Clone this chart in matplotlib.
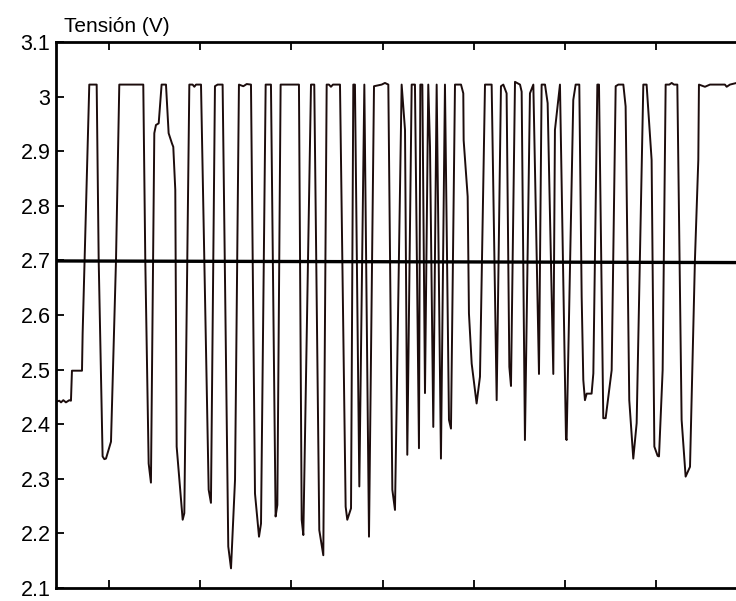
import matplotlib
matplotlib.use("Agg")
import matplotlib.pyplot as plt

plt.rcParams['font.family'] = ['Liberation Sans', 'DejaVu Sans']

# time axis (arbitrary units, ticks every 10) and measured voltage
t = [4.19, 4.55, 4.74, 4.99, 5.28, 5.65, 5.83, 5.94, 7.04, 7.11,
     7.84, 8.65, 8.87, 9.30, 9.49, 9.67, 10.22, 10.77, 11.13, 13.76,
     13.98, 14.35, 14.60, 14.97, 15.15, 15.45, 15.77, 16.25, 16.54, 16.91,
     17.05, 17.27, 17.42, 18.08, 18.26, 18.81, 19.17, 19.36, 19.54, 20.09,
     20.93, 21.18, 21.62, 21.91, 22.46,
     23.08, 23.38, 23.82, 24.25, 24.73, 25.10, 25.57, 26.01, 26.45, 26.67,
     27.18, 27.76, 28.27, 28.46, 28.82, 30.83, 31.13, 31.31, 32.15, 32.51,
     33.06, 33.50, 33.87, 34.12, 34.34, 34.56, 35.33, 35.95, 36.13, 36.54,
     36.79, 36.97, 37.45, 38.00, 38.51, 39.06, 39.90, 40.26, 40.63, 41.07,
     41.36,
     42.09, 42.46, 42.71, 43.19, 43.55, 43.99, 44.14, 44.36, 44.65, 45.01,
     45.20, 45.56, 45.93, 46.40, 46.84, 47.28, 47.50, 47.94, 48.60, 48.85,
     48.89, 49.33, 49.47, 49.77, 50.31, 50.68, 51.23, 51.96, 52.51, 52.98,
     53.24, 53.60, 53.90, 54.08, 54.52, 55.07, 55.25, 55.61, 56.16, 56.53,
     57.15, 57.44, 57.81, 58.10, 58.72, 58.90, 59.45, 60.11,
     60.18, 60.91, 61.17, 61.57, 61.83, 62.01, 62.19, 62.38, 62.92, 63.11,
     63.55, 63.73, 64.20, 64.46, 65.12, 65.56, 65.85, 66.40, 66.65, 67.05,
     67.49, 67.86, 68.59, 68.95, 69.50, 69.80, 70.16, 70.31, 70.71, 71.04,
     71.44, 71.70, 71.95, 72.32, 72.79, 73.23, 73.71, 74.25, 74.62, 74.69,
     75.35, 75.90, 77.54, 77.73, 78.09, 78.82, 79.60]
v = [2.441, 2.443, 2.440, 2.444, 2.440, 2.444, 2.443, 2.498, 2.498, 2.566,
     3.022, 3.022, 2.701, 2.341, 2.336, 2.337, 2.368, 2.701, 3.022, 3.022,
     2.701, 2.328, 2.293, 2.933, 2.948, 2.951, 3.022, 3.022, 2.933, 2.914,
     2.908, 2.829, 2.359, 2.225, 2.237, 3.022, 3.022, 3.018, 3.022, 3.022,
     2.280, 2.256, 3.019, 3.022, 3.022,
     2.176, 2.136, 2.298, 3.022, 3.019, 3.023, 3.022, 2.273, 2.194, 2.218,
     3.022, 3.022, 2.231, 2.252, 3.022, 3.022, 2.225, 2.197, 3.022, 3.022,
     2.206, 2.160, 3.022, 3.022, 3.018, 3.022, 3.022, 2.249, 2.225, 2.246,
     3.022, 3.022, 2.286, 3.022, 2.194, 3.019, 3.022, 3.025, 3.022, 2.280,
     2.243,
     3.022, 2.939, 2.344, 3.022, 3.022, 2.356, 3.022, 3.022, 2.457, 3.022,
     2.908, 2.395, 3.022, 2.337, 3.022, 2.408, 2.392, 3.022, 3.022, 3.006,
     2.920, 2.817, 2.603, 2.511, 2.438, 2.487, 3.022, 3.022, 2.444, 3.019,
     3.022, 3.006, 2.505, 2.470, 3.027, 3.022, 3.009, 2.371, 3.006, 3.022,
     2.492, 3.022, 3.022, 2.988, 2.492, 2.939, 3.022, 2.374,
     2.371, 2.994, 3.022, 3.022, 2.634, 2.481, 2.444, 2.456, 2.456, 2.493,
     3.022, 3.022, 2.411, 2.411, 2.499, 3.019, 3.022, 3.022, 2.982, 2.444,
     2.337, 2.402, 3.022, 3.022, 2.884, 2.359, 2.342, 2.341, 2.499, 3.022,
     3.022, 3.025, 3.022, 3.022, 2.408, 2.304, 2.322, 2.701, 2.884, 3.022,
     3.018, 3.022, 3.022, 3.018, 3.022, 3.025, 3.022]

# reference level (thick line)
ref_t = [4.19, 79.60]
ref_v = [2.699, 2.696]

yticks = [2.1, 2.2, 2.3, 2.4, 2.5, 2.6, 2.7, 2.8, 2.9, 3.0, 3.1]
ytick_labels = ['2.1', '2.2', '2.3', '2.4', '2.5', '2.6', '2.7', '2.8', '2.9', '3', '3.1']
xticks = [10, 20, 30, 40, 50, 60, 70]

fig = plt.figure(figsize=(7.36, 6.01), dpi=100)
ax = fig.add_axes([56 / 736, 13 / 601, 690 / 736, 546 / 601])

ax.plot(t, v, color='#1c0c0c', linewidth=1.4)
ax.plot(ref_t, ref_v, color='black', linewidth=2.4)

ax.set_xlim(4.19, 79.85)
ax.set_ylim(2.1, 3.1)
ax.set_yticks(yticks)
ax.set_yticklabels(ytick_labels)
ax.set_xticks(xticks)
ax.set_xticklabels([])
ax.tick_params(direction='in', top=True, right=True, length=6, width=1.3,
               labelsize=15.5, pad=4)
for side in ax.spines.values():
    side.set_linewidth(2)

fig.text(64 / 736, 1 - 32 / 601, 'Tensión (V)', fontsize=15,
         ha='left', va='baseline')

fig.savefig('out.png', dpi=100)
